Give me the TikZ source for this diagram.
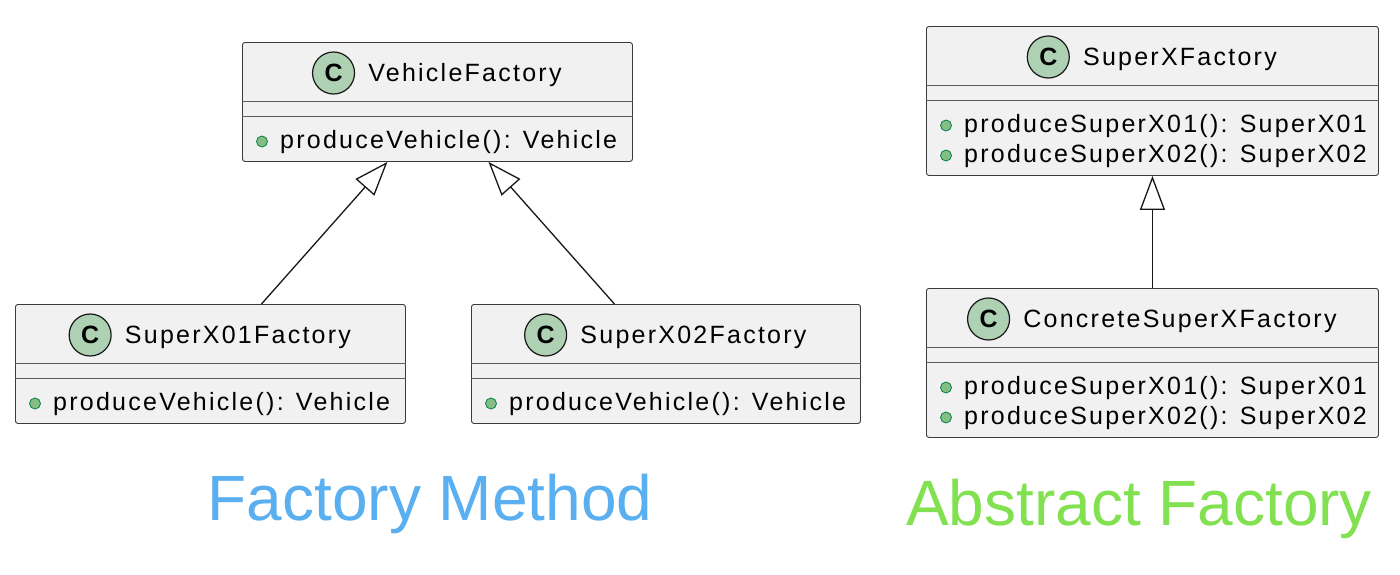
\documentclass[tikz,border=0pt]{standalone}
\usepackage{fontspec}
\setmainfont{Liberation Sans}
\newfontfamily\umlfont[LetterSpace=9]{Liberation Sans}
\usetikzlibrary{positioning}
\usetikzlibrary{calc}
\usetikzlibrary{arrows.meta}
\definecolor{boxfill}{HTML}{F1F1F1}
\definecolor{boxline}{HTML}{181818}
\definecolor{spotfill}{HTML}{ADD1B2}
\definecolor{dotfill}{HTML}{84BE84}
\definecolor{dotline}{HTML}{038048}
\definecolor{fmblue}{RGB}{90,175,240}
\definecolor{afgreen}{RGB}{130,225,80}
\tikzset{
  classbox/.style={draw=boxline!85, fill=boxfill, rounded corners=2.5pt, line width=0.9pt, inner sep=0pt},
  divider/.style={draw=boxline!70, line width=0.9pt},
  classtitle/.style={inner sep=0pt, font=\umlfont\fontsize{25}{25}\selectfont},
  member/.style={inner sep=0pt, font=\umlfont\fontsize{25}{25}\selectfont},
  spot/.style={circle, draw=boxline, fill=spotfill, line width=1.2pt, minimum size=42pt, inner sep=0pt, font=\fontsize{25}{25}\selectfont\bfseries},
  pubdot/.style={circle, draw=dotline, fill=dotfill, minimum size=11pt, inner sep=0pt, line width=0.8pt},
  inherit/.style={draw=boxline, line width=1.3pt, -{Triangle[open, length=34pt, width=25pt]}},
  patternlabel/.style={inner sep=0pt, font=\fontsize{64}{64}\selectfont},
}
% class box: name, left, top, width, height, title
\newcommand\umlclass[6]{%
  \node[classbox, minimum width=#4pt, minimum height=#5pt, anchor=north west] (#1) at (#2,#3) {};
  \draw[divider] ($(#1.north west)+(0,59.5)$) -- ($(#1.north east)+(0,59.5)$);
  \draw[divider] ($(#1.north west)+(0,74)$) -- ($(#1.north east)+(0,74)$);
  \node[classtitle, anchor=base] (#1-title) at ($(#1.north)+(27.5,39)$) {#6};
  \node[spot, anchor=east] (#1-spot) at ($(#1-title.west |- #1.north)+(-13,31)$) {C};
}
% public member: class name, row, text
\newcommand\umlmember[3]{%
  \node[pubdot] (#1-dot#2) at ($(#1.north west)+(20,99.5+30*#2)$) {};
  \node[member, anchor=base west] (#1-m#2) at ($(#1.north west)+(38,106.5+30*#2)$) {#3};
}

\begin{document}
\begin{tikzpicture}[x=1pt, y=-1pt]
  \fill[white] (0,0) rectangle (1400,574);
  \useasboundingbox (0,0) rectangle (1400,574);

  % factory method
  \umlclass{vf}{242}{42}{390}{119}{VehicleFactory}
  \umlmember{vf}{0}{produceVehicle(): Vehicle}
  \umlclass{x01}{15}{304}{390}{119}{SuperX01Factory}
  \umlmember{x01}{0}{produceVehicle(): Vehicle}
  \umlclass{x02}{471}{304}{389}{119}{SuperX02Factory}
  \umlmember{x02}{0}{produceVehicle(): Vehicle}
  \draw[inherit] ([xshift=51pt]x01.north) -- ([xshift=-50pt]vf.south);
  \draw[inherit] ([xshift=-51.5pt]x02.north) -- ([xshift=51pt]vf.south);

  % abstract factory
  \umlclass{sxf}{926}{26}{452}{149}{SuperXFactory}
  \umlmember{sxf}{0}{produceSuperX01(): SuperX01}
  \umlmember{sxf}{1}{produceSuperX02(): SuperX02}
  \umlclass{csf}{926}{288}{452}{149}{ConcreteSuperXFactory}
  \umlmember{csf}{0}{produceSuperX01(): SuperX01}
  \umlmember{csf}{1}{produceSuperX02(): SuperX02}
  \draw[inherit] (csf.north) -- (sxf.south);

  \node[patternlabel, text=fmblue, anchor=base] (fm) at (430,520) {Factory Method};
  \node[patternlabel, text=afgreen, anchor=base] (af) at (1139,525) {Abstract Factory};
\end{tikzpicture}
\end{document}
